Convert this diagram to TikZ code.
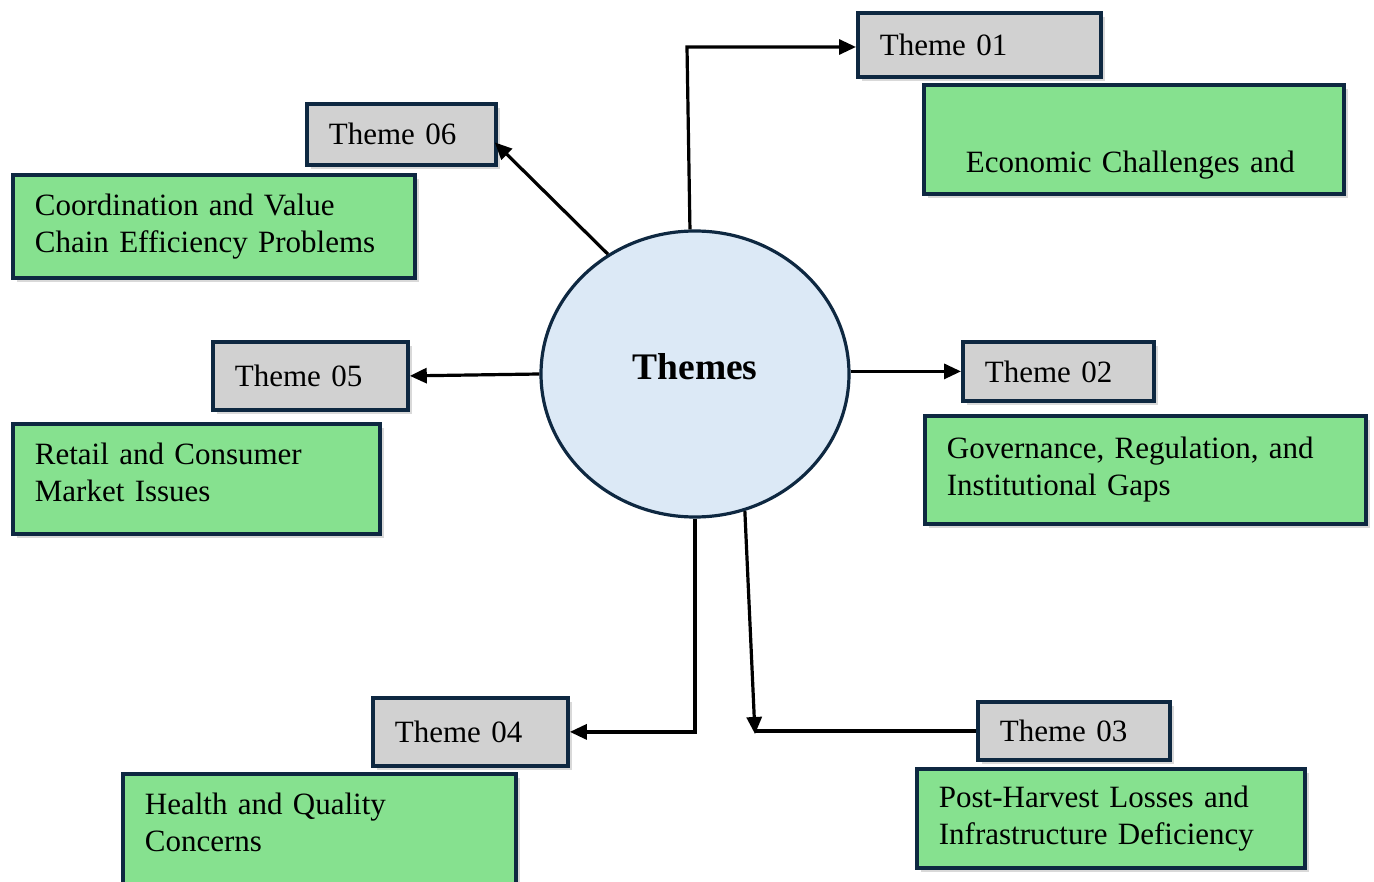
\documentclass[tikz,border=0pt]{standalone}
\usepackage{fontspec}
\setmainfont{Liberation Serif}
\usetikzlibrary{arrows.meta,calc,shadows,shapes.geometric}

\definecolor{navyline}{RGB}{14,40,65}
\definecolor{themegray}{RGB}{209,209,209}
\definecolor{issuegreen}{RGB}{134,225,143}
\definecolor{hubblue}{RGB}{220,233,246}

\tikzset{
  themebox/.style={draw=navyline, line width=3.8pt, fill=themegray, rectangle,
    drop shadow={shadow xshift=4pt, shadow yshift=-4pt, opacity=0.3},
    inner xsep=20pt, inner ysep=0pt, align=left, anchor=north west,
    font=\fontsize{31}{37}\selectfont},
  issuebox/.style={draw=navyline, line width=3.8pt, fill=issuegreen, rectangle,
    drop shadow={shadow xshift=4pt, shadow yshift=-4pt, opacity=0.3},
    inner xsep=20pt, inner ysep=0pt, align=left, anchor=north west,
    font=\fontsize{31}{37}\selectfont},
  arrowline/.style={line width=3.2pt, -{Triangle[length=17pt,width=15pt]}},
  plainline/.style={line width=3.2pt}
}

\begin{document}
\begin{tikzpicture}[x=1pt,y=1pt,yscale=-1,xscale=1]
\useasboundingbox (0,0) rectangle (1374,882);

%Shape: Ellipse [hub]
\node [draw=navyline, line width=3.2pt, fill=hubblue, ellipse, minimum width=308, minimum height=286, inner sep=0pt,
  font=\fontsize{37.5}{40}\selectfont\bfseries] (themes) at (695,374) {\raisebox{16pt}{Themes}};

%Shape: Rectangle [theme boxes]
\node [themebox, minimum width=243, minimum height=64, text width=199] (t1) at (856,11) {Theme 01};
\node [themebox, minimum width=191, minimum height=59, text width=147] (t2) at (961,340) {Theme 02};
\node [themebox, minimum width=192, minimum height=58, text width=148] (t3) at (976,700) {Theme 03};
\node [themebox, minimum width=195, minimum height=68, text width=151] (t4) at (371,696) {Theme 04};
\node [themebox, minimum width=195, minimum height=68, text width=151] (t5) at (211,340) {Theme 05};
\node [themebox, minimum width=189, minimum height=61, text width=145] (t6) at (305,102) {Theme 06};

%Shape: Rectangle [issue boxes]
\node [issuebox, minimum width=420, minimum height=109, inner xsep=40pt, text width=336] (g1) at (922,83) {\mbox{}\\[36pt]Economic Challenges and};
\node [issuebox, minimum width=441, minimum height=108, text width=397] (g2) at (923,414) {Governance, Regulation, and\\Institutional Gaps};
\node [issuebox, minimum width=388, minimum height=99, text width=344] (g3) at (915,767) {Post-Harvest Losses and\\Infrastructure Deficiency};
\node [issuebox, minimum width=393, minimum height=112, text width=349] (g4) at (121,772) {Health and Quality\\Concerns\\[-22pt]\mbox{}};
\node [issuebox, minimum width=367, minimum height=110, text width=323] (g5) at (11,422) {Retail and Consumer\\Market Issues\\[-24pt]\mbox{}};
\node [issuebox, minimum width=402, minimum height=103, text width=358] (g6) at (11,173) {Coordination and Value\\Chain Efficiency Problems};

%Connectors
\coordinate (c1) at (687,47);
\coordinate (c3) at (755,734);
\draw [arrowline] (themes.92) -- (c1) -- (c1 -| t1.west);
\draw [arrowline] (themes.east |- t2.west) -- (t2.west);
\draw [arrowline] (themes.-70) -- (c3);
\draw [plainline] (t3.west) -- (c3 |- t3.west);
\draw [arrowline] (themes.south) |- (t4.east);
\draw [arrowline] (themes.west) -- (t5.east);
\draw [arrowline] (themes.126) -- ($(t6.east)+(-3,8)$);

\end{tikzpicture}
\end{document}
